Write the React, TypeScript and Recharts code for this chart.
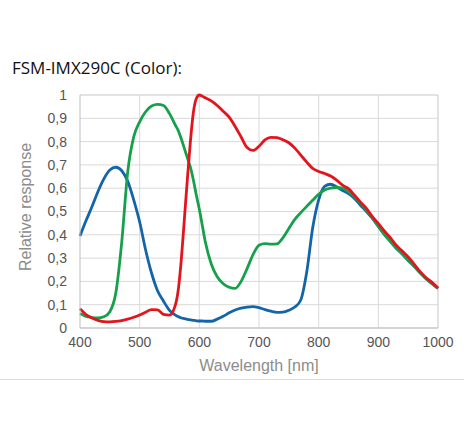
import React from 'react';
import { LineChart, Line, XAxis, YAxis, CartesianGrid, ReferenceLine } from 'recharts';

const wavelengths = [
  400, 410, 420, 430, 440, 450, 460, 470, 480, 490, 500, 510, 520, 530, 540, 550, 560, 565, 570, 575,
  580, 585, 590, 595, 600, 605, 610, 620, 630, 640, 650, 660, 670, 680, 690, 700, 710, 720, 730, 740,
  750, 760, 770, 780, 790, 800, 810, 820, 830, 840, 850, 860, 870, 880, 890, 900, 910, 920, 930, 940,
  950, 960, 970, 980, 990, 1000,
];

const blue = [
  0.395, 0.46, 0.52, 0.585, 0.64, 0.678, 0.69, 0.675, 0.63, 0.55, 0.455, 0.335, 0.235, 0.16, 0.115, 0.076, 0.055, 0.048, 0.043, 0.04,
  0.037, 0.035, 0.033, 0.031, 0.03, 0.03, 0.029, 0.029, 0.038, 0.05, 0.065, 0.077, 0.085, 0.09, 0.092, 0.087, 0.079, 0.072, 0.067, 0.068,
  0.076, 0.09, 0.12, 0.24, 0.43, 0.55, 0.608, 0.617, 0.606, 0.59, 0.577, 0.556, 0.527, 0.5, 0.47, 0.436, 0.402, 0.372, 0.342, 0.318,
  0.29, 0.265, 0.237, 0.212, 0.19, 0.17,
];

const green = [
  0.062, 0.05, 0.045, 0.043, 0.048, 0.07, 0.15, 0.37, 0.67, 0.82, 0.885, 0.928, 0.953, 0.96, 0.955, 0.92, 0.87, 0.845, 0.81, 0.77,
  0.73, 0.69, 0.635, 0.57, 0.51, 0.44, 0.37, 0.275, 0.22, 0.19, 0.175, 0.17, 0.2, 0.255, 0.315, 0.355, 0.362, 0.36, 0.361, 0.387,
  0.427, 0.466, 0.495, 0.522, 0.548, 0.574, 0.592, 0.6, 0.603, 0.6, 0.585, 0.563, 0.537, 0.506, 0.472, 0.436, 0.402, 0.372, 0.342, 0.318,
  0.29, 0.265, 0.237, 0.212, 0.19, 0.17,
];

const red = [
  0.083, 0.058, 0.043, 0.033, 0.027, 0.026, 0.028, 0.032, 0.038, 0.046, 0.056, 0.068, 0.079, 0.078, 0.058, 0.055, 0.1, 0.17, 0.3, 0.47,
  0.64, 0.8, 0.925, 0.985, 1.0, 0.995, 0.988, 0.975, 0.955, 0.93, 0.905, 0.865, 0.82, 0.775, 0.762, 0.78, 0.807, 0.818, 0.817, 0.808,
  0.795, 0.772, 0.742, 0.712, 0.685, 0.672, 0.663, 0.652, 0.635, 0.613, 0.598, 0.57, 0.54, 0.513, 0.478, 0.448, 0.417, 0.388, 0.355, 0.33,
  0.305, 0.274, 0.242, 0.216, 0.196, 0.172,
];

const xTicks = [400, 500, 600, 700, 800, 900, 1000];
const yTicks = [0, 0.1, 0.2, 0.3, 0.4, 0.5, 0.6, 0.7, 0.8, 0.9, 1];

const data = wavelengths.map((w, i) => ({ w, blue: blue[i], green: green[i], red: red[i] }));

const tickStyle = { fontFamily: 'Liberation Sans, Arial, sans-serif', fontSize: 14, fill: '#555' };

export default function App() {
  return (
    <div style={{ position: 'absolute', left: 0, top: 0, width: 464, height: 435, background: '#fff' }}>
      <div
        style={{
          position: 'absolute',
          left: 12,
          top: 56,
          fontFamily: 'Open Sans, sans-serif',
          fontSize: 17,
          color: '#111',
          whiteSpace: 'nowrap',
        }}
      >
        FSM-IMX290C (Color):
      </div>
      <div
        style={{
          position: 'absolute',
          left: 26,
          top: 207,
          transform: 'translate(-50%, -50%) rotate(-90deg)',
          fontFamily: 'Liberation Sans, Arial, sans-serif',
          fontSize: 16,
          color: '#8c8c8c',
          whiteSpace: 'nowrap',
        }}
      >
        Relative response
      </div>
      <div
        style={{
          position: 'absolute',
          left: 259,
          top: 366,
          transform: 'translate(-50%, -50%)',
          fontFamily: 'Liberation Sans, Arial, sans-serif',
          fontSize: 16,
          color: '#8c8c8c',
          whiteSpace: 'nowrap',
        }}
      >
        Wavelength [nm]
      </div>
      <div style={{ position: 'absolute', left: 0, top: 379, width: 464, borderTop: '1px solid #dcdcdc' }} />
      <div style={{ position: 'absolute', left: 0, top: 0 }}>
        <LineChart width={464} height={378} data={data} margin={{ top: 95, right: 26, left: 0, bottom: 20 }}>
          <CartesianGrid stroke="#d9d9d9" strokeWidth={1} verticalPoints={[139.7, 199.3, 259, 318.7, 378.3, 438]} />
          <XAxis
            dataKey="w"
            type="number"
            domain={[400, 1000]}
            ticks={xTicks}
            height={30}
            tickLine={false}
            tickMargin={3}
            axisLine={{ stroke: '#bdbdbd' }}
            tick={tickStyle}
            interval={0}
          />
          <YAxis
            type="number"
            domain={[0, 1]}
            ticks={yTicks}
            width={80}
            tickLine={false}
            tickMargin={7}
            axisLine={{ stroke: '#bdbdbd' }}
            tick={tickStyle}
            interval={0}
            tickFormatter={(v: number) => String(Math.round(v * 10) / 10).replace('.', ',')}
          />
          <ReferenceLine x={1000} stroke="#d9d9d9" />
          <ReferenceLine y={1} stroke="#d9d9d9" />
          <Line type="monotone" dataKey="blue" stroke="#1464a8" strokeWidth={2.8} dot={false} isAnimationActive={false} />
          <Line type="monotone" dataKey="green" stroke="#17a04c" strokeWidth={2.8} dot={false} isAnimationActive={false} />
          <Line type="monotone" dataKey="red" stroke="#e3141c" strokeWidth={2.8} dot={false} isAnimationActive={false} />
        </LineChart>
      </div>
    </div>
  );
}
